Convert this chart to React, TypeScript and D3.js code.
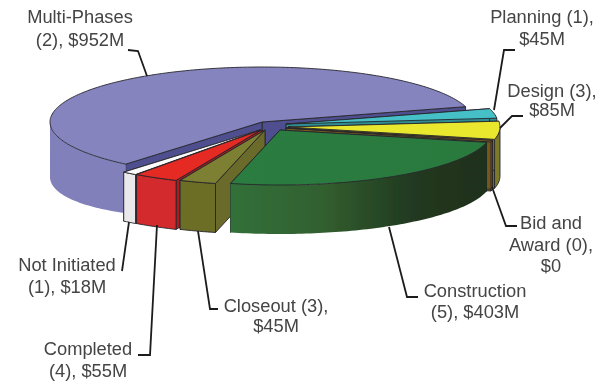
import React from "react";
import * as d3 from "d3";

const categories = ["Multi-Phases", "Planning", "Design", "Bid and Award", "Construction", "Closeout", "Completed", "Not Initiated"];
const projectCounts = [2, 1, 3, 0, 5, 3, 4, 1];
const valuesM = [952, 45, 85, 0, 403, 45, 55, 18];

const labelLines = [
  ["Multi-Phases", "(2), $952M"],
  ["Planning (1),", "$45M"],
  ["Design (3),", "$85M"],
  ["Bid and", "Award (0),", "$0"],
  ["Construction", "(5), $403M"],
  ["Closeout (3),", "$45M"],
  ["Completed", "(4), $55M"],
  ["Not Initiated", "(1), $18M"],
];

// layout / style tables (index = category)
const apexX = [262, 286, 288, 286, 280, 265, 261, 260];
const apexY = [122, 124, 127, 128, 130, 130, 130, 130];
const topFill = ["#8584be", "#45c0c6", "#e9e72f", "#7a5c1c", "url(#greenTop)", "#7d7f30", "#e42a24", "#fbfbfb"];
const wallFill = ["#8180ba", "#2f8d92", "#7b7a2a", "#75591c", "url(#greenSide)", "#6d6e28", "#d3292d", "#e9e9ec"];
const innerFill = ["#50508f", "#2f8d92", "#7b7a2a", "#75591c", "#2b5a30", "#6a6b2a", "#a81f20", "#d9d9dc"];
const wallStroke = ["none", "#26262c", "#26262c", "#26262c", "none", "#26262c", "#26262c", "#26262c"];
const leftExtraDepth = [6, 0, 0, 0, 0, 0, 0, 0];
const labelX = [80, 542, 552, 551, 475, 276, 88, 67];
const labelY = [23, 23, 97, 229, 297, 312, 355, 271];
const lineGap = [23, 22, 19, 21.5, 21, 20, 22, 22];
const leaders: number[][][] = [
  [[128, 50], [138, 51], [147, 76]],
  [[515, 50], [504, 50], [494, 110]],
  [[523, 116], [512, 116], [500, 128]],
  [[492, 187], [506, 226], [517, 226]],
  [[389, 227], [407, 297], [418, 297]],
  [[198, 231], [210, 309], [218, 309]],
  [[157, 225], [150, 355], [138, 355]],
  [[129, 222], [122, 271]],
];

const RX = 212;
const RY = 55;
const DEPTH = 49;
const START = (220 * Math.PI) / 180;
const ZERO_SWEEP = (1.8 * Math.PI) / 180;
const HALF = -Math.PI / 2;

const pie = d3.pie<number>().sort(null).startAngle(START).endAngle(START + 2 * Math.PI);
const arcs = pie(valuesM);
const line = d3.line<number[]>().x((d) => d[0]).y((d) => d[1]);

function pt(i: number, svgAngle: number, dz = 0): number[] {
  return [apexX[i] + RX * Math.cos(svgAngle), apexY[i] + RY * Math.sin(svgAngle) + dz];
}
function rimDepth(i: number, t: number): number {
  return DEPTH + leftExtraDepth[i] * Math.max(0, (-Math.cos(t) - 0.64) / 0.36);
}
function samples(a0: number, a1: number): number[] {
  const n = Math.max(2, Math.ceil(Math.abs(a1 - a0) / 0.02));
  return d3.range(n + 1).map((k) => a0 + ((a1 - a0) * k) / n);
}

// back to front
const drawOrder = [0, 1, 2, 3, 7, 6, 5, 4];
const edge = "#26262c";

export default function App() {
  return (
    <svg width={610} height={383} style={{ position: "absolute", left: 0, top: 0, background: "#fff" }}>
      <defs>
        <linearGradient id="greenSide" x1="0" x2="1" y1="0" y2="0">
          <stop offset="0" stopColor="#33703a" />
          <stop offset="0.35" stopColor="#33602f" />
          <stop offset="0.7" stopColor="#213a20" />
          <stop offset="1" stopColor="#1f301c" />
        </linearGradient>
        <linearGradient id="greenTop" x1="0" x2="1" y1="0" y2="0">
          <stop offset="0" stopColor="#2b7b3f" />
          <stop offset="1" stopColor="#2c7a3e" />
        </linearGradient>
        <filter id="soft" x="-5%" y="-5%" width="110%" height="110%">
          <feGaussianBlur stdDeviation="0.45" />
        </filter>
      </defs>
      <g filter="url(#soft)">
        {drawOrder.map((i) => {
          const a = arcs[i];
          const a0 = a.startAngle + HALF;
          const a1 = (valuesM[i] === 0 ? a.endAngle + ZERO_SWEEP : a.endAngle) + HALF;
          const apex = [apexX[i], apexY[i]];
          const apexLow = [apexX[i], apexY[i] + DEPTH];
          const arcTop = samples(a0, a1).map((t) => pt(i, t));
          const top = line([apex, ...arcTop])! + "Z";
          const wallEnd = line([apex, pt(i, a1), pt(i, a1, DEPTH), apexLow])! + "Z";
          const wallStart = line([apex, pt(i, a0), pt(i, a0, DEPTH), apexLow])! + "Z";
          // outer wall: only the part of the rim that faces the viewer
          const vis: number[] = samples(a0, a1).filter((t) => Math.sin(t) >= -0.001);
          const outer = vis.length > 1
            ? line([...vis.map((t) => pt(i, t)), ...vis.slice().reverse().map((t) => pt(i, t, rimDepth(i, t)))])! + "Z"
            : null;
          return (
            <g key={categories[i]} stroke={edge} strokeWidth={0.9} strokeLinejoin="round">
              <path d={wallEnd} fill={innerFill[i]} />
              <path d={wallStart} fill={innerFill[i]} />
              {outer && <path d={outer} fill={wallFill[i]} stroke={wallStroke[i]} />}
              <path d={top} fill={topFill[i]} />
            </g>
          );
        })}
        {leaders.map((l, i) => (
          <path key={i} d={line(l)!} fill="none" stroke="#1c1c1c" strokeWidth={1.8} />
        ))}
      </g>
      <g fontFamily="'Liberation Sans', Arial, sans-serif" fontSize={18.3} fill="#444" textAnchor="middle" filter="url(#soft)">
        {labelLines.map((ls, i) =>
          ls.map((t, k) => (
            <text key={`${i}-${k}`} x={labelX[i]} y={labelY[i] + k * lineGap[i]}>{t}</text>
          ))
        )}
      </g>
    </svg>
  );
}
